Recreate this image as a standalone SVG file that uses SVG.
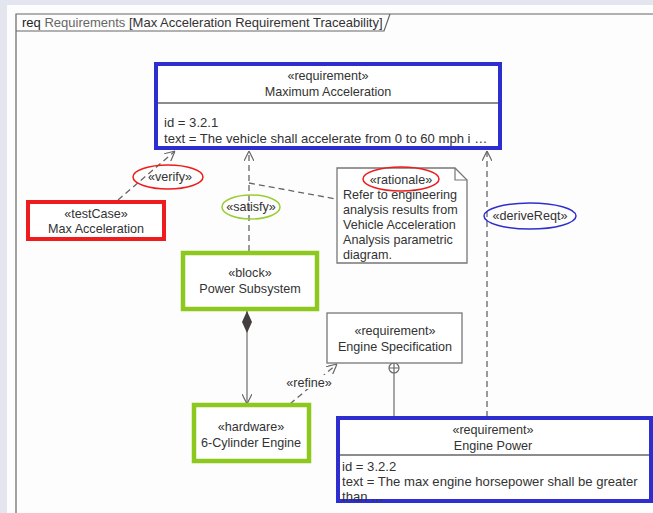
<svg xmlns="http://www.w3.org/2000/svg" width="653" height="513" viewBox="0 0 653 513">
  <style>
    text { font-family: "Liberation Sans", Arial, sans-serif; font-size: 12.6px; fill: #333; }
    .c { text-anchor: middle; }
    .hdr { font-size: 13px; }
    .body { font-size: 13.1px; }
    .frame { fill: none; stroke: #666; stroke-width: 1.2; }
    .thin { fill: #fff; stroke: #777; stroke-width: 1.3; }
    .req { fill: #fff; stroke: #2e2ed0; stroke-width: 4; }
    .grn { fill: #fff; stroke: #8cc81e; stroke-width: 4.5; }
    .red { fill: #fff; stroke: #ee1c1c; stroke-width: 4; }
    .div { stroke: #666; stroke-width: 1.3; }
    .dash { fill: none; stroke: #666; stroke-width: 1.3; stroke-dasharray: 6 4; }
    .solid { fill: none; stroke: #777; stroke-width: 1.3; }
    .oval { fill: none; stroke-width: 1.5; }
  </style>
  <defs>
    <marker id="open" viewBox="0 0 10 10" refX="10" refY="5" markerWidth="10" markerHeight="10" markerUnits="userSpaceOnUse" orient="auto">
      <path d="M0,0 L10,5 L0,10" fill="none" stroke="#666" stroke-width="1.2"/>
    </marker>
    <marker id="diamond" viewBox="0 0 22 10" refX="0" refY="5" markerWidth="22" markerHeight="10" markerUnits="userSpaceOnUse" orient="auto">
      <path d="M0,5 L11,0 L22,5 L11,10 Z" fill="#443f3f"/>
    </marker>
  </defs>

  <!-- page background -->
  <rect x="0" y="0" width="653" height="513" fill="#e3e6ef"/>
  <rect x="7" y="5" width="646" height="508" fill="#fdfdfd"/>

  <!-- diagram frame and header -->
  <g id="frame">
    <path class="frame" d="M16,513 V14 H653"/>
    <path class="frame" d="M16,31 H384 L390,14"/>
    <text x="22" y="27" class="hdr"><tspan fill="#222">req</tspan> <tspan fill="#666">Requirements</tspan> [Max Acceleration Requirement Traceability]</text>
  </g>

  <!-- connectors -->
  <g id="connectors">
    <!-- verify -->
    <path class="dash" d="M118,200 L175,151" marker-end="url(#open)"/>
    <!-- satisfy -->
    <path class="dash" d="M249,251 V151" marker-end="url(#open)"/>
    <!-- rationale anchor -->
    <path class="dash" d="M249,183 L336,199"/>
    <!-- deriveReqt -->
    <path class="dash" d="M487,417 V151" marker-end="url(#open)"/>
    <!-- composition -->
    <path class="solid" d="M247,311 V404" marker-start="url(#diamond)" marker-end="url(#open)"/>
    <!-- refine -->
    <path class="dash" d="M290,404 L337,364" marker-end="url(#open)"/>
    <!-- containment -->
    <path class="solid" d="M394,373 V418"/>
    <circle cx="394" cy="368" r="5" fill="#fff" stroke="#666" stroke-width="1.2"/>
    <path d="M389,368 H399 M394,363 V373" stroke="#666" stroke-width="1.2"/>
  </g>

  <!-- connector labels -->
  <g id="labels">
    <ellipse class="oval" cx="168" cy="177" rx="35" ry="12" stroke="#ee1c1c"/>
    <text x="170" y="181" class="c">«verify»</text>
    <ellipse class="oval" cx="251" cy="207" rx="29" ry="12" stroke="#9acd32"/>
    <text x="251" y="211" class="c">«satisfy»</text>
    <ellipse class="oval" cx="530" cy="216" rx="46" ry="13" stroke="#2e2ed0"/>
    <text x="530" y="220" class="c">«deriveReqt»</text>
    <rect x="287" y="375" width="44" height="14" fill="#fdfdfd"/>
    <text x="309" y="387" class="c">«refine»</text>
  </g>

  <g id="max-acceleration">
    <rect class="req" x="156" y="64" width="344" height="84"/>
    <line class="div" x1="158" y1="103" x2="498" y2="103"/>
    <text x="328" y="80" class="c">«requirement»</text>
    <text x="328" y="96" class="c">Maximum Acceleration</text>
    <text x="164" y="127" class="body">id = 3.2.1</text>
    <text x="164" y="143" class="body">text = The vehicle shall accelerate from 0 to 60 mph i …</text>
  </g>

  <g id="test-case">
    <rect class="red" x="28" y="202" width="136" height="37"/>
    <text x="96" y="218" class="c">«testCase»</text>
    <text x="96" y="233" class="c">Max Acceleration</text>
  </g>

  <g id="rationale">
    <path class="thin" d="M337,168 H455 L467,180 V263 H337 Z"/>
    <path d="M455,168 V180 H467" fill="none" stroke="#777" stroke-width="1.2"/>
    <ellipse class="oval" cx="401" cy="179" rx="38" ry="12" stroke="#ee1c1c"/>
    <text x="401" y="184" class="c">«rationale»</text>
    <text x="343" y="199">Refer to engineering</text>
    <text x="343" y="214">analysis results from</text>
    <text x="343" y="229">Vehicle Acceleration</text>
    <text x="343" y="244">Analysis parametric</text>
    <text x="343" y="259">diagram.</text>
  </g>

  <g id="power-subsystem">
    <rect class="grn" x="183" y="253" width="134" height="56"/>
    <text x="250" y="277" class="c">«block»</text>
    <text x="250" y="293" class="c">Power Subsystem</text>
  </g>

  <g id="engine-specification">
    <rect class="thin" x="327" y="313" width="135" height="50"/>
    <text x="395" y="335" class="c">«requirement»</text>
    <text x="395" y="351" class="c">Engine Specification</text>
  </g>

  <g id="six-cylinder-engine">
    <rect class="grn" x="194" y="405" width="115" height="56"/>
    <text x="251" y="431" class="c">«hardware»</text>
    <text x="251" y="447" class="c">6-Cylinder Engine</text>
  </g>

  <g id="engine-power">
    <rect class="req" x="338" y="418" width="313" height="83"/>
    <line class="div" x1="340" y1="455" x2="649" y2="455"/>
    <text x="493" y="434" class="c">«requirement»</text>
    <text x="493" y="450" class="c">Engine Power</text>
    <text x="342" y="471" class="body">id = 3.2.2</text>
    <text x="342" y="486" class="body">text = The max engine horsepower shall be greater</text>
    <text x="342" y="501" class="body">than …</text>
  </g>
</svg>
